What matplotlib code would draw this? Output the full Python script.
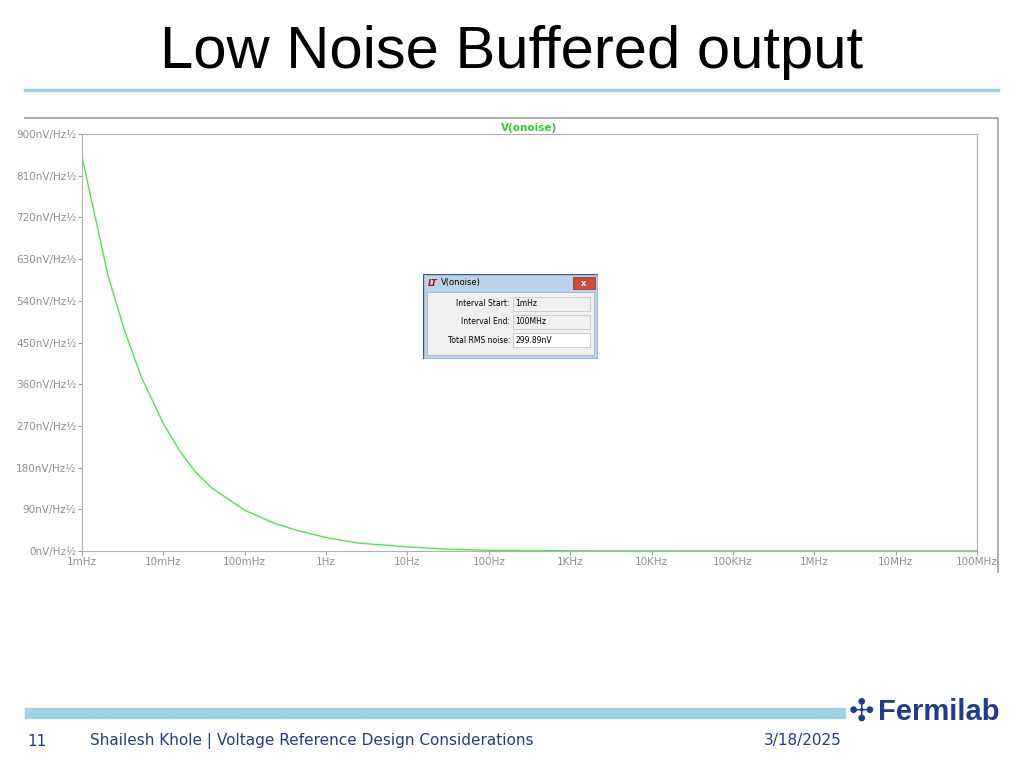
import matplotlib
matplotlib.use("Agg")
import matplotlib.pyplot as plt
from matplotlib.patches import Rectangle

freq = [1e-3, 1.43e-3, 2.1e-3, 3.3e-3, 5.4e-3, 1e-2, 1.6e-2, 2.5e-2, 4e-2, 0.1, 0.23, 0.45, 1, 2.5, 10, 30, 100, 1e3, 1e4, 1e5, 1e6, 1e7, 1e8]
noise = [851, 726, 593, 478, 374, 275, 215, 170, 135, 88, 60, 44, 29, 17, 9, 4, 1.5, 0.5, 0.3, 0.2, 0.2, 0.2, 0.2]
xticks = [1e-3, 1e-2, 1e-1, 1, 10, 100, 1e3, 1e4, 1e5, 1e6, 1e7, 1e8]
xlabels = ["1mHz", "10mHz", "100mHz", "1Hz", "10Hz", "100Hz", "1KHz", "10KHz", "100KHz", "1MHz", "10MHz", "100MHz"]
yticks = [0, 90, 180, 270, 360, 450, 540, 630, 720, 810, 900]
ylabels = [f"{v}nV/Hz½" for v in yticks]

fig = plt.figure(figsize=(10.24, 7.68), dpi=100)
W, H = 1024, 768
def fx(p): return p / W
def fy(p): return 1 - p / H

fig.text(fx(512), fy(52), "Low Noise Buffered output", ha="center", va="center", fontsize=43, family="Liberation Sans")
fig.add_artist(plt.Line2D([fx(25), fx(998)], [fy(90), fy(90)], color="#9fd3e3", lw=2.5))
fig.add_artist(Rectangle((fx(25), fy(718)), fx(820), 10 / H, color="#9fd3e3", transform=fig.transFigure))
fig.text(fx(27), fy(741), "11", fontsize=11, color="#1f3d8a", va="center")
fig.text(fx(90), fy(741), "Shailesh Khole | Voltage Reference Design Considerations", fontsize=11, color="#1f3d8a", va="center")
fig.text(fx(842), fy(741), "3/18/2025", fontsize=11, color="#1f3d8a", va="center", ha="right")
fig.text(fx(878), fy(712), "Fermilab", fontsize=21, color="#1f3d8a", va="center", weight="bold", family="Liberation Sans")
fig.text(fx(862), fy(712), "✣", fontsize=22, color="#1f3d8a", va="center", ha="center", family="DejaVu Sans")

fig.add_artist(plt.Line2D([fx(25), fx(998), fx(998)], [fy(118), fy(118), fy(572)], color="#a0a0a0", lw=1.2))

ax = fig.add_axes([fx(82), fy(551), fx(977 - 82), (551 - 134) / H])
ax.plot(freq, noise, color="#44ee44", lw=1)
ax.set_xscale("log")
ax.set_xlim(1e-3, 1e8)
ax.set_ylim(0, 900)
ax.set_xticks(xticks)
ax.set_xticklabels(xlabels)
ax.set_yticks(yticks)
ax.set_yticklabels(ylabels)
for s in ax.spines.values():
    s.set_color("#b0b0b0")
ax.tick_params(colors="#a0a0a0", labelcolor="#909090", labelsize=7.5, length=3, pad=1)
ax.tick_params(axis="x", which="minor", colors="#a0a0a0", length=2)
ax.set_title("V(onoise)", color="#33cc33", fontsize=7.5, weight="bold", pad=2)

d = fig.add_axes([fx(423), fy(359), fx(598 - 423), (359 - 274) / H])
d.set_xlim(0, 175); d.set_ylim(85, 0); d.axis("off")
d.add_patch(Rectangle((0, 0), 175, 85, facecolor="#bcd3ea", edgecolor="#3a5a80", lw=1))
d.add_patch(Rectangle((4, 18), 167, 63, facecolor="#f0f0f0", edgecolor="#9aaabb", lw=0.5))
d.add_patch(Rectangle((150, 3), 22, 12, facecolor="#d04a3a", edgecolor="#803020", lw=0.5))
d.text(161, 9, "x", color="white", fontsize=6, ha="center", va="center", weight="bold")
d.text(5, 9, "LT", color="#b01010", fontsize=6, va="center", style="italic", weight="bold")
d.text(18, 9, "V(onoise)", fontsize=6, va="center")
rows = [("Interval Start:", "1mHz", 30), ("Interval End:", "100MHz", 48), ("Total RMS noise:", "299.89nV", 66)]
for lab, val, y in rows:
    d.text(87, y, lab, fontsize=5.5, ha="right", va="center")
    d.add_patch(Rectangle((90, y - 7), 77, 14, facecolor="#f0f0f0" if y < 60 else "white", edgecolor="#c8c8c8", lw=0.6))
    d.text(92, y, val, fontsize=5.5, va="center")

fig.savefig("out.png", dpi=100)
